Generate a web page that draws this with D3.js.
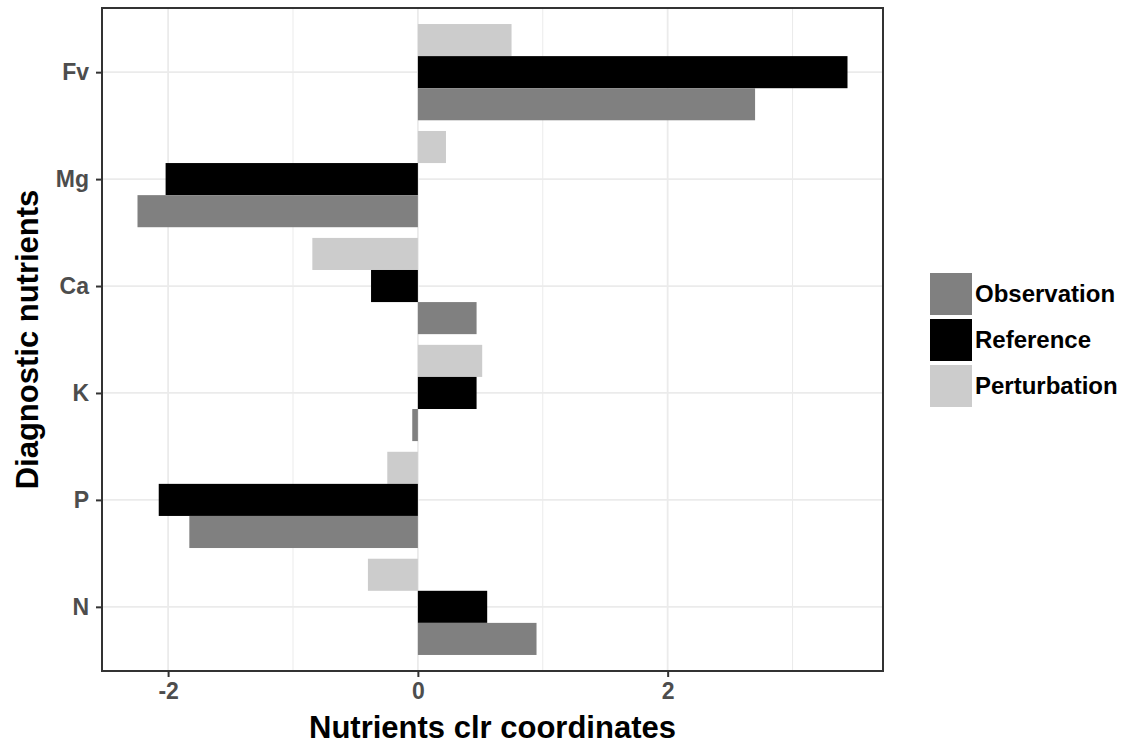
<!DOCTYPE html>
<html>
<head>
<meta charset="utf-8">
<script src="https://cdn.jsdelivr.net/npm/d3@7"></script>
<style>
  body { margin: 0; background: #fff; }
  svg { display: block; font-family: "Liberation Sans", Arial, sans-serif; }
</style>
</head>
<body>
<div id="chart"></div>
<script>
// data
const nutrients = ["Fv", "Mg", "Ca", "K", "P", "N"];
const series = ["Perturbation", "Reference", "Observation"];
const observation = [2.70, -2.245, 0.47, -0.045, -1.83, 0.95];
const reference = [3.44, -2.02, -0.375, 0.47, -2.075, 0.555];
const perturbation = [0.75, 0.225, -0.845, 0.515, -0.245, -0.40];
const xTicks = [-2, 0, 2];
const xMinor = [-1, 1, 3];
const legendOrder = ["Observation", "Reference", "Perturbation"];

const values = { Observation: observation, Reference: reference, Perturbation: perturbation };
const color = d3.scaleOrdinal()
  .domain(["Observation", "Reference", "Perturbation"])
  .range(["#808080", "#000000", "#cccccc"]);

const W = 1140, H = 746;
const panel = { left: 102, right: 883, top: 8, bottom: 671 };

const svg = d3.select("#chart").append("svg")
  .attr("width", W).attr("height", H);

const rows = nutrients.flatMap((n, i) => series.map(s => ({ nutrient: n, key: s, value: values[s][i] })));

// ggplot-style 5% expansion around data incl. 0
const ext = d3.extent(rows.map(d => d.value).concat([0]));
const pad = (ext[1] - ext[0]) * 0.05;
const x = d3.scaleLinear()
  .domain([ext[0] - pad, ext[1] + pad])
  .range([panel.left, panel.right]);

const y = d3.scalePoint()
  .domain(nutrients)
  .range([panel.top, panel.bottom])
  .padding(0.6);

const groupH = y.step() * 0.9;
const inner = d3.scaleBand().domain(series).range([-groupH / 2, groupH / 2]);

// grid
const grid = svg.append("g");
grid.selectAll(".minor").data(xMinor).join("line")
  .attr("x1", d => x(d)).attr("x2", d => x(d))
  .attr("y1", panel.top).attr("y2", panel.bottom)
  .attr("stroke", "#ebebeb").attr("stroke-width", 1);
grid.selectAll(".major").data(xTicks).join("line")
  .attr("x1", d => x(d)).attr("x2", d => x(d))
  .attr("y1", panel.top).attr("y2", panel.bottom)
  .attr("stroke", "#ebebeb").attr("stroke-width", 1.8);
grid.selectAll(".hmajor").data(nutrients).join("line")
  .attr("x1", panel.left).attr("x2", panel.right)
  .attr("y1", d => y(d)).attr("y2", d => y(d))
  .attr("stroke", "#ebebeb").attr("stroke-width", 1.8);

// bars
svg.append("g").selectAll("rect").data(rows).join("rect")
  .attr("x", d => x(Math.min(0, d.value)))
  .attr("width", d => Math.abs(x(d.value) - x(0)))
  .attr("y", d => y(d.nutrient) + inner(d.key))
  .attr("height", inner.bandwidth())
  .attr("fill", d => color(d.key));

// panel border
svg.append("rect")
  .attr("x", panel.left).attr("y", panel.top)
  .attr("width", panel.right - panel.left).attr("height", panel.bottom - panel.top)
  .attr("fill", "none").attr("stroke", "#333333").attr("stroke-width", 2);

// axes
const xAxis = svg.append("g")
  .attr("transform", `translate(0,${panel.bottom})`)
  .call(d3.axisBottom(x).tickValues(xTicks).tickSize(6).tickPadding(6).tickFormat(d3.format("d")));
xAxis.select(".domain").remove();
xAxis.selectAll(".tick line").attr("stroke", "#333333").attr("stroke-width", 2);
xAxis.selectAll(".tick text")
  .attr("fill", "#4d4d4d").attr("font-size", 23).attr("font-weight", "bold")
  .text(d => d < 0 ? "-" + Math.abs(d) : d);

const yAxis = svg.append("g")
  .attr("transform", `translate(${panel.left},0)`)
  .call(d3.axisLeft(y).tickSize(6).tickPadding(7));
yAxis.select(".domain").remove();
yAxis.selectAll(".tick line").attr("stroke", "#333333").attr("stroke-width", 2);
yAxis.selectAll(".tick text")
  .attr("fill", "#4d4d4d").attr("font-size", 23).attr("font-weight", "bold");

// axis titles
svg.append("text")
  .attr("x", (panel.left + panel.right) / 2).attr("y", 738)
  .attr("text-anchor", "middle")
  .attr("font-size", 31).attr("font-weight", "bold")
  .text("Nutrients clr coordinates");

svg.append("text")
  .attr("transform", `translate(38,${(panel.top + panel.bottom) / 2}) rotate(-90)`)
  .attr("text-anchor", "middle")
  .attr("font-size", 31).attr("font-weight", "bold")
  .text("Diagnostic nutrients");

// legend
const keySize = 42, keyStep = 46;
const legend = svg.append("g")
  .attr("transform", `translate(930,273)`);
const item = legend.selectAll("g").data(legendOrder).join("g")
  .attr("transform", (d, i) => `translate(0,${i * keyStep})`);
item.append("rect")
  .attr("width", keySize).attr("height", keySize)
  .attr("fill", d => color(d));
item.append("text")
  .attr("x", keySize + 3).attr("y", keySize / 2)
  .attr("dy", "0.35em")
  .attr("font-size", 24).attr("font-weight", "bold")
  .text(d => d);
</script>
</body>
</html>
